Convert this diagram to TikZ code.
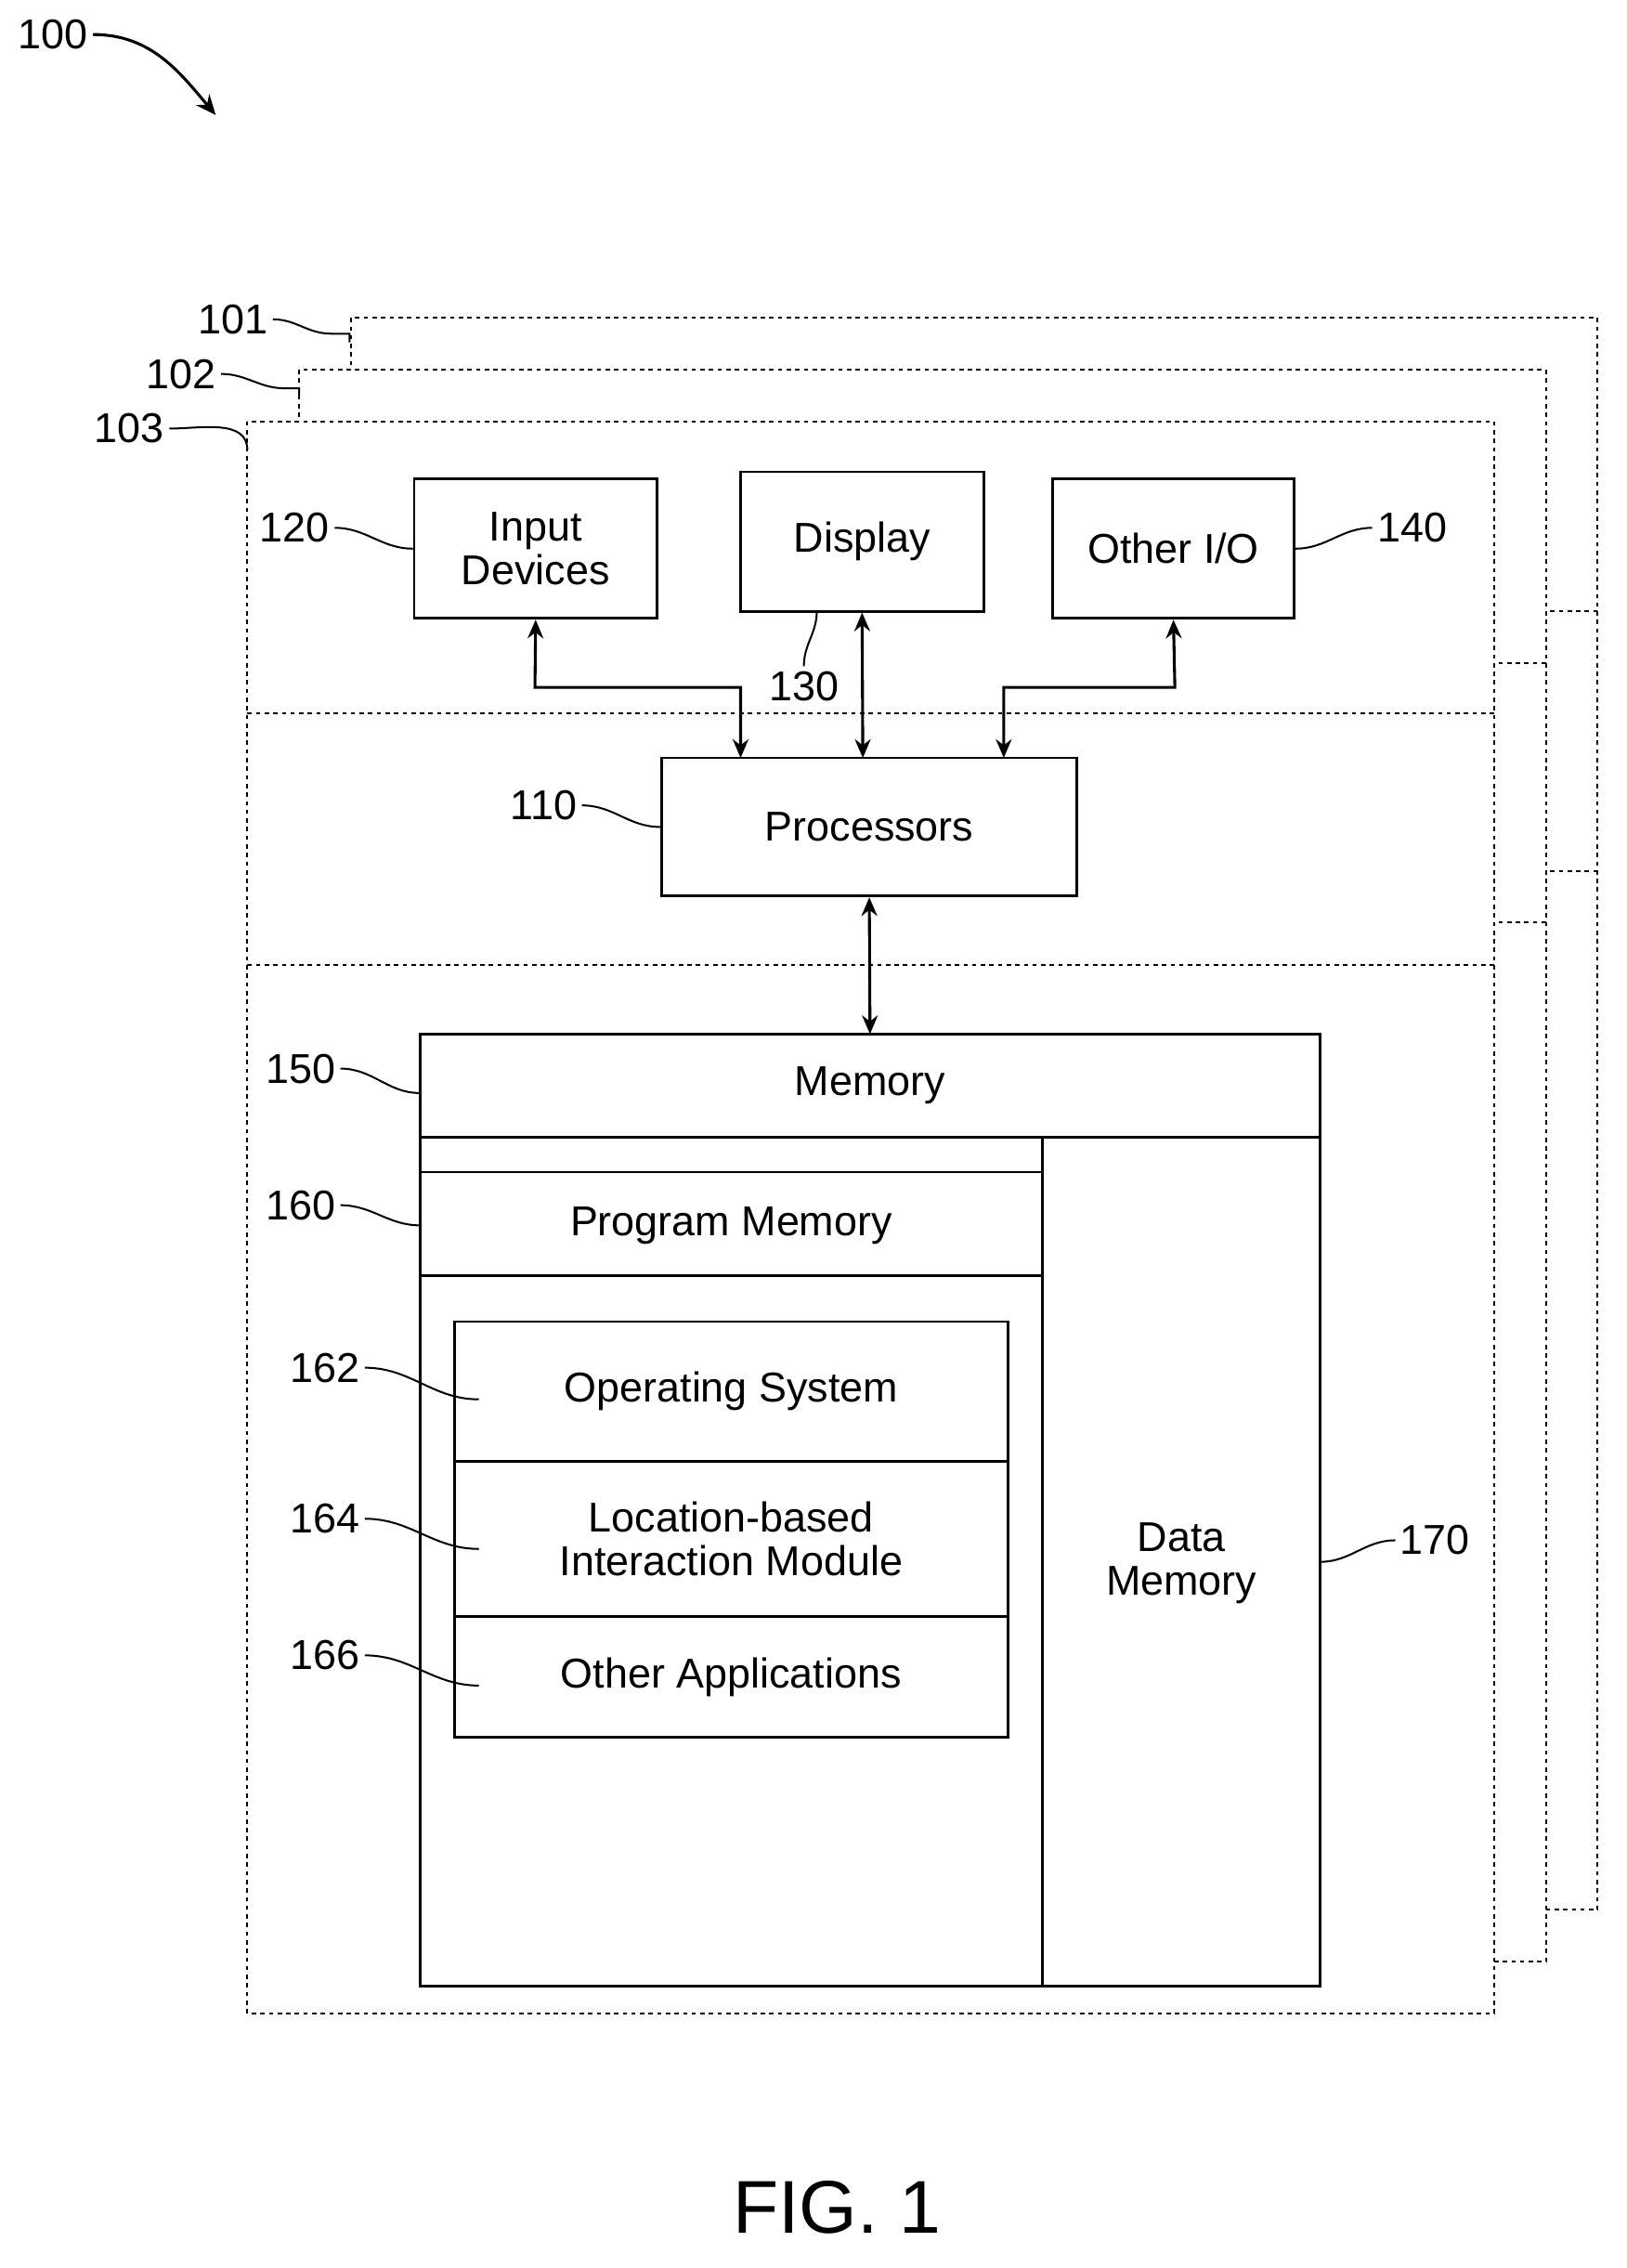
\documentclass[tikz,border=0pt]{standalone}
\usepackage{fontspec}
\setmainfont{Liberation Sans}
\usetikzlibrary{arrows.meta}
\begin{document}
\begin{tikzpicture}[x=1pt,y=-1pt,
  lay/.style={draw,dashed,line width=1.3pt,fill=white},
  sep/.style={dashed,line width=1.3pt},
  box/.style={draw,line width=1.8pt,fill=white},
  lbl/.style={font=\fontsize{29}{32}\selectfont},
  txt/.style={font=\fontsize{29}{36}\selectfont,align=center},
  lead/.style={line width=1.3pt},
  arr/.style={line width=2pt,{Stealth[length=13pt,width=11pt]}-{Stealth[length=13pt,width=11pt]}}]
\fill[white] (0,0) rectangle (1131,1577);
% layers
\draw[lay] (244,221) rectangle (1111,1328);
\draw[sep] (244,425) -- (1111,425); \draw[sep] (244,606) -- (1111,606);
\draw[lay] (208,257) rectangle (1075,1364);
\draw[sep] (208,461) -- (1075,461); \draw[sep] (208,641) -- (1075,641);
\draw[lay] (172,293) rectangle (1039,1400);
\draw[sep] (172,496) -- (1039,496); \draw[sep] (172,671) -- (1039,671);
\node[lbl] (l101) at (162,222) {101};
\node[lbl] (l102) at (126,260) {102};
\node[lbl] (l103) at (90,298) {103};
\coordinate (c101) at (243,238); \coordinate (c102) at (208,275); \coordinate (c103) at (172,313);
\draw[lead] (l101.east) to[out=0,in=180] (230,232) -- (243,232) -- (c101);
\draw[lead] (l102.east) to[out=0,in=180] (198,270) -- (208,270) -- (c102);
\draw[lead] (l103.east) to[out=0,in=90] (c103);
% top boxes
\node[box,txt,minimum width=169pt,minimum height=97pt] (in) at (372.5,381.5) {Input\\[-6pt]Devices};
\node[box,txt,minimum width=169pt,minimum height=97pt] (disp) at (599.5,376.5) {Display};
\node[box,txt,minimum width=168pt,minimum height=97pt] (oio) at (816,381.5) {Other I/O};
\node[box,txt,minimum width=289pt,minimum height=96pt] (proc) at (604.5,575) {Processors};
\draw[arr] (in.south) -- (372,478) -| (515,527);
\draw[arr] (disp.south) -- (600,527);
\draw[arr] (oio.south) -- (817,478) -| (698,527);
% memory
\draw[box] (292,719) rectangle (918,1381);
\node[txt] (mem) at (605,755) {Memory};
\draw[line width=1.8pt] (292,791) -- (918,791);
\draw[line width=1.8pt] (725,791) -- (725,1381);
\draw[line width=1.8pt] (292,815) -- (725,815);
\draw[line width=1.8pt] (292,887) -- (725,887);
\node[txt] (pm) at (508.5,852) {Program Memory};
\node[txt] (dm) at (821.5,1087) {Data\\[-6pt]Memory};
\coordinate (memtop) at (605,719);
\draw[arr] (proc.south) -- (memtop);
\draw[box] (316,919) rectangle (701,1208);
\draw[line width=1.8pt] (316,1016) -- (701,1016);
\draw[line width=1.8pt] (316,1124) -- (701,1124);
\node[txt] (os) at (508.5,967) {Operating System};
\node[txt] (lbm) at (508.5,1070) {Location-based\\[-6pt]Interaction Module};
\node[txt] (oa) at (508.5,1166) {Other Applications};
% labels
\node[lbl] (l120) at (205,367) {120};
\node[lbl] (l140) at (982,367) {140};
\node[lbl] (l130) at (559,477) {130};
\node[lbl] (l110) at (378,560) {110};
\node[lbl] (l150) at (209,743) {150};
\node[lbl] (l160) at (209,838) {160};
\node[lbl] (l162) at (226,951) {162};
\node[lbl] (l164) at (226,1056) {164};
\node[lbl] (l166) at (226,1151) {166};
\node[lbl] (l170) at (998,1071) {170};
\coordinate (p130) at (568,425);
\coordinate (p162) at (333,973); \coordinate (p164) at (333,1077); \coordinate (p166) at (333,1172);
\coordinate (p150) at (292,760); \coordinate (p160) at (292,852); \coordinate (p170) at (918,1086);
\draw[lead] (l120.east) to[out=0,in=180] (in.west);
\draw[lead] (l140.west) to[out=180,in=0] (oio.east);
\draw[lead] (l130.north) to[out=90,in=-90] (p130);
\draw[lead] (l110.east) to[out=0,in=180] (proc.west);
\draw[lead] (l150.east) to[out=0,in=180] (p150);
\draw[lead] (l160.east) to[out=0,in=180] (p160);
\draw[lead] (l162.east) to[out=0,in=180] (p162);
\draw[lead] (l164.east) to[out=0,in=180] (p164);
\draw[lead] (l166.east) to[out=0,in=180] (p166);
\draw[lead] (l170.west) to[out=180,in=0] (p170);
% 100
\node[lbl] (l100) at (37,24) {100};
\coordinate (p100) at (150,80);
\draw[line width=2pt,-{Stealth[length=14pt,width=12pt]}] (l100.east) to[out=0,in=130] (p100);
\node[font=\fontsize{52}{56}\selectfont] (fig) at (582,1535) {FIG. 1};
\end{tikzpicture}
\end{document}
